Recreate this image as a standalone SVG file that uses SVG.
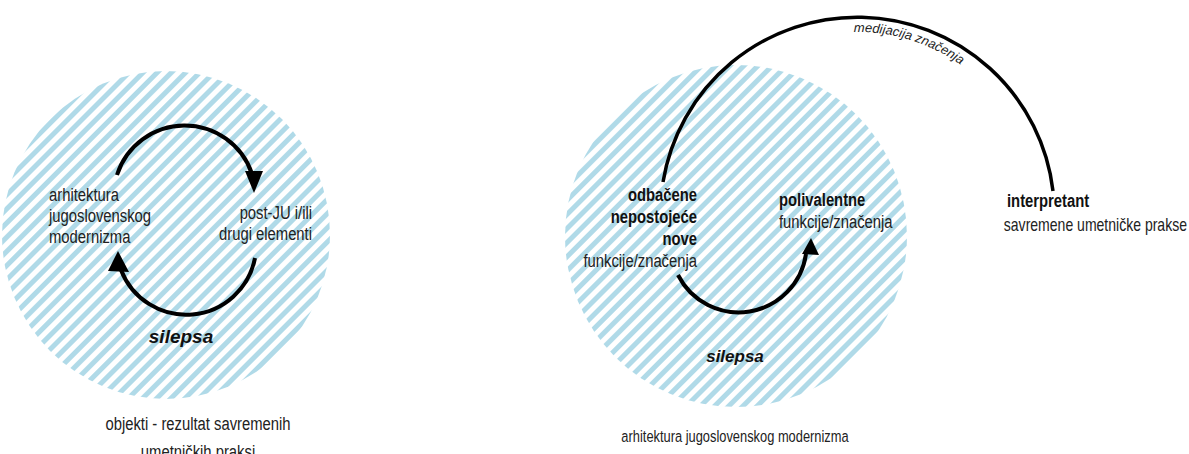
<svg xmlns="http://www.w3.org/2000/svg" width="1189" height="454" viewBox="0 0 1189 454">
  <defs>
    <pattern id="stripes" patternUnits="userSpaceOnUse" width="10" height="10" patternTransform="rotate(45)">
      <rect x="0" y="0" width="5" height="10" fill="#b0dae8"/>
    </pattern>
    <path id="medPath" d="M 853.9 32 A 180 180 0 0 1 1037 212" fill="none"/>
    <style>
      .zone { fill: url(#stripes); }
      .arc { fill: none; stroke: #000; stroke-width: 4; stroke-linecap: butt; }
      .big { fill: none; stroke: #000; stroke-width: 3.5; }
      .head { fill: #000; }
      .t { font-family: "Liberation Sans", Arial, sans-serif; font-size: 19px; fill: #222; }
      .b { font-family: "Liberation Sans", Arial, sans-serif; font-size: 19px; font-weight: bold; fill: #111; }
      .sil { font-family: "Liberation Sans", Arial, sans-serif; font-weight: bold; font-style: italic; fill: #111; }
      .med { font-family: "Liberation Sans", Arial, sans-serif; font-size: 13px; font-style: italic; fill: #222; }
    </style>
  </defs>
  <rect width="1189" height="454" fill="#fff"/>

  <g id="left-zone">
    <circle class="zone" cx="166" cy="235" r="164"/>
  </g>
  <g id="right-zone">
    <circle class="zone" cx="736" cy="236" r="171"/>
  </g>

  <g id="connectors">
    <path class="arc" d="M 117 175 A 71 71 0 0 1 252 174"/>
    <path class="head" d="M 245 171 L 263 171 L 254 193 Z"/>
    <path class="arc" d="M 255 258 A 70 70 0 0 1 121 270"/>
    <path class="head" d="M 108 271 L 129 272 L 118 251 Z"/>
    <path class="arc" d="M 678 275 A 68 68 0 0 0 806 254"/>
    <path class="head" d="M 802 254 L 819 255 L 811 238 Z"/>
    <path class="big" d="M 663 182 A 197 197 0 0 1 1053 191"/>
    <text class="med"><textPath href="#medPath">medijacija značenja</textPath></text>
  </g>

  <g id="node-arhitektura">
    <text class="t" transform="translate(49 201) scale(0.78 1)">arhitektura</text>
    <text class="t" transform="translate(49 222) scale(0.78 1)">jugoslovenskog</text>
    <text class="t" transform="translate(49 243) scale(0.78 1)">modernizma</text>
  </g>
  <g id="node-postju">
    <text class="t" text-anchor="end" transform="translate(312 219) scale(0.78 1)">post-JU i/ili</text>
    <text class="t" text-anchor="end" transform="translate(312 240) scale(0.78 1)">drugi elementi</text>
  </g>
  <g id="node-silepsa-left">
    <text class="sil" x="181" y="343" font-size="19" text-anchor="middle">silepsa</text>
  </g>
  <g id="node-caption-left">
    <text class="t" text-anchor="middle" transform="translate(198 430) scale(0.78 1)">objekti - rezultat savremenih</text>
    <text class="t" text-anchor="middle" transform="translate(198 458) scale(0.78 1)">umetničkih praksi</text>
  </g>

  <g id="node-odbacene">
    <text class="b" text-anchor="end" transform="translate(697 201) scale(0.78 1)">odbačene</text>
    <text class="b" text-anchor="end" transform="translate(697 223) scale(0.78 1)">nepostojeće</text>
    <text class="b" text-anchor="end" transform="translate(697 245) scale(0.78 1)">nove</text>
    <text class="t" text-anchor="end" transform="translate(697 267) scale(0.78 1)">funkcije/značenja</text>
  </g>
  <g id="node-polivalentne">
    <text class="b" transform="translate(779 206) scale(0.78 1)">polivalentne</text>
    <text class="t" transform="translate(779 228) scale(0.78 1)">funkcije/značenja</text>
  </g>
  <g id="node-silepsa-right">
    <text class="sil" x="735" y="362" font-size="17" text-anchor="middle">silepsa</text>
  </g>
  <g id="node-caption-right">
    <text class="t" text-anchor="middle" style="font-size:16.5px" transform="translate(735 442) scale(0.78 1)">arhitektura jugoslovenskog modernizma</text>
  </g>
  <g id="node-interpretant">
    <text class="b" transform="translate(1007 207) scale(0.78 1)">interpretant</text>
    <text class="t" text-anchor="end" style="font-size:18px" transform="translate(1187 231) scale(0.78 1)">savremene umetničke prakse</text>
  </g>
</svg>
